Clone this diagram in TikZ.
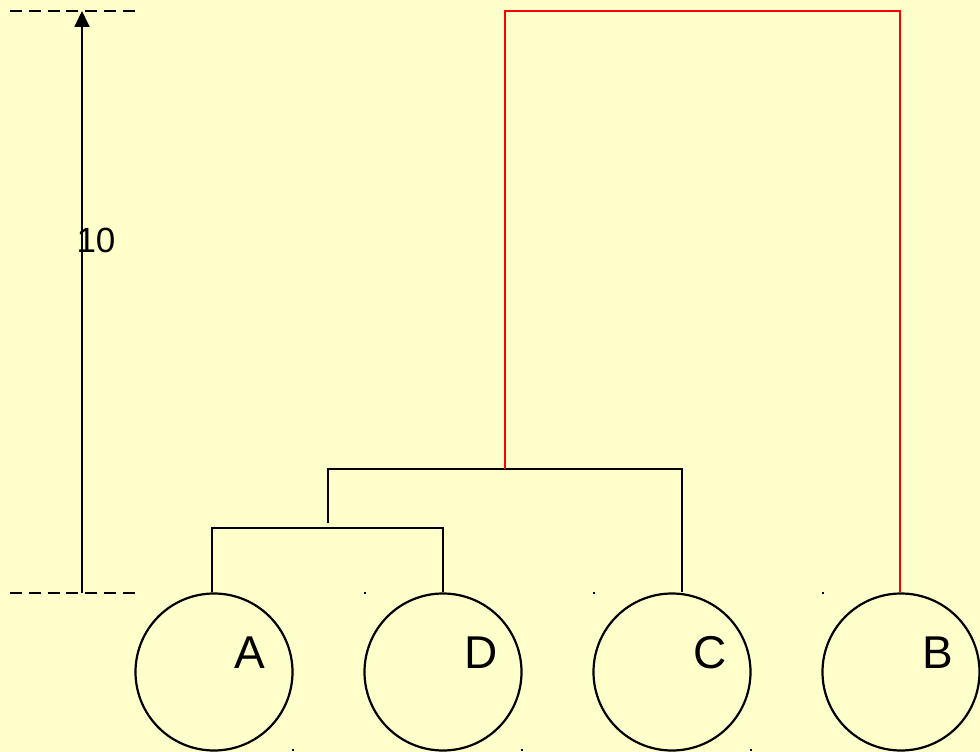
\documentclass[tikz,border=0pt]{standalone}
\usepackage{fontspec}
\setmainfont{Liberation Sans}
\usetikzlibrary{arrows.meta}
\definecolor{bgyellow}{HTML}{FFFFCC}
\definecolor{treered}{HTML}{FF0000}
\begin{document}
\begin{tikzpicture}[x=1pt,y=-1pt,
  leaf/.style={draw=black,line width=2.2pt,circle,minimum size=157pt,inner sep=0pt},
  leaflabel/.style={font=\fontsize{46}{46}\selectfont,inner sep=0pt,anchor=center},
  link/.style={draw=black,line width=2pt},
  redlink/.style={draw=treered,line width=2pt},
  guide/.style={draw=black,line width=2pt,dash pattern=on 12pt off 6.8pt},
  speck/.style={fill=black,minimum size=2.5pt,inner sep=0pt,draw=none,rectangle}]
\fill[bgyellow] (0,0) rectangle (980,752);
\useasboundingbox (0,0) rectangle (980,752);
% leaves
\node[leaf] (a) at (214,672) {};
\node[leaf] (d) at (443,672) {};
\node[leaf] (c) at (672,672) {};
\node[leaf] (b) at (901,672) {};
\node[leaflabel] (la) at (250,653) {A};
\node[leaflabel] (ld) at (481,653) {D};
\node[leaflabel] (lc) at (710,653) {C};
\node[leaflabel] (lb) at (938,653) {B};
% specks
\node[speck] (s1) at (365,593) {};
\node[speck] (s2) at (594,593) {};
\node[speck] (s3) at (823,593) {};
\node[speck] (s4) at (293,750) {};
\node[speck] (s5) at (522,750) {};
\node[speck] (s6) at (751,750) {};
% scale
\coordinate (gt1) at (10,11);
\coordinate (gt2) at (135,11);
\coordinate (gb1) at (10,593);
\coordinate (gb2) at (135,593);
\draw[guide] (gt1) -- (gt2);
\draw[guide] (gb1) -- (gb2);
\coordinate (abot) at (82,593);
\coordinate (atop) at (82,11);
\draw[line width=2pt,-{Triangle[length=16pt,width=15pt]}] (abot) -- (atop);
\node[font=\fontsize{35}{35}\selectfont,inner sep=0pt] (ten) at (96,240) {10};
% dendrogram
\coordinate (jad1) at (212,528);
\coordinate (jad2) at (443,528);
\coordinate (m1) at (328,523);
\coordinate (m1t) at (328,469);
\coordinate (jc) at (682,469);
\coordinate (r1) at (505,469);
\coordinate (r2) at (505,11);
\coordinate (r3) at (900,11);
\draw[link] (jad1 |- a.north) -- (jad1) -- (jad2) -- (jad2 |- d.north);
\draw[link] (m1) -- (m1t) -- (jc) -- (jc |- c.north);
\draw[redlink] (r1) -- (r2) -- (r3) -- (r3 |- b.north);
\end{tikzpicture}
\end{document}
